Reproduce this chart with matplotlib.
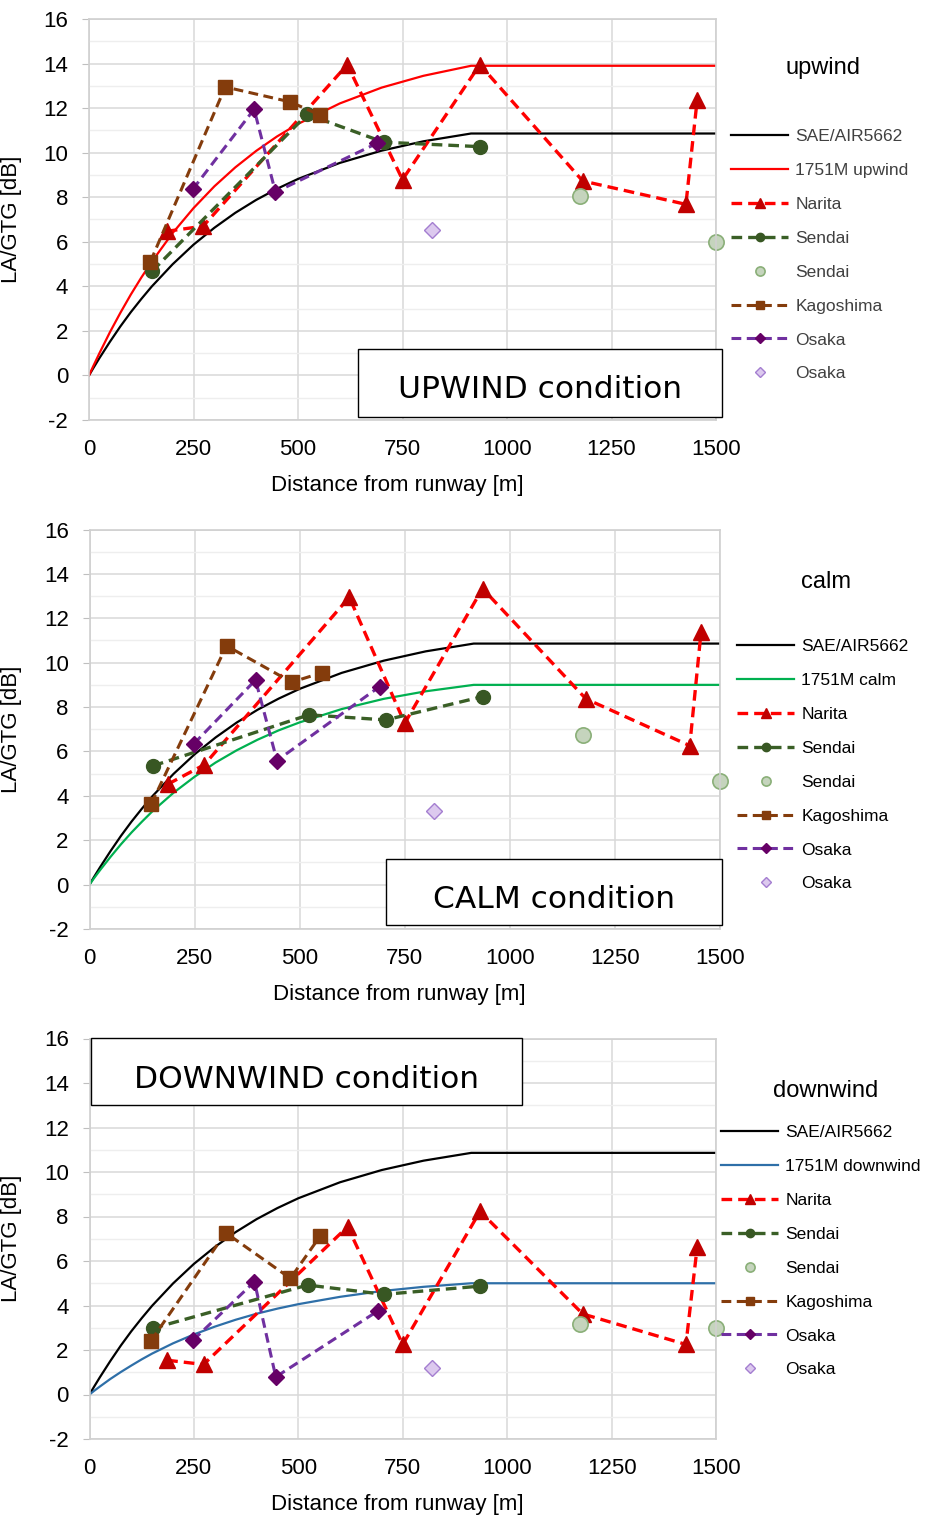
import matplotlib
matplotlib.use("Agg")
import matplotlib.pyplot as plt
from matplotlib.patches import Rectangle

W, H = 931, 1517

# curves
dist_curve = [0, 10, 25, 50, 75, 100, 125, 150, 200, 250, 300, 350, 400, 450, 500, 600, 700, 800, 914, 1500]
sae_curve = [0, 0.32, 0.78, 1.51, 2.20, 2.84, 3.43, 3.99, 4.99, 5.87, 6.63, 7.30, 7.88, 8.38, 8.82, 9.54, 10.09, 10.51, 10.86, 10.86]
upwind_1751m = [0, 0.41, 1.00, 1.94, 2.81, 3.63, 4.39, 5.10, 6.39, 7.51, 8.49, 9.34, 10.08, 10.73, 11.29, 12.21, 12.92, 13.45, 13.90, 13.90]
calm_1751m = [0, 0.27, 0.65, 1.25, 1.82, 2.35, 2.84, 3.31, 4.14, 4.86, 5.50, 6.05, 6.53, 6.95, 7.31, 7.91, 8.37, 8.71, 9.00, 9.00]
downwind_1751m = [0, 0.15, 0.36, 0.70, 1.01, 1.30, 1.58, 1.84, 2.30, 2.70, 3.05, 3.36, 3.63, 3.86, 4.06, 4.39, 4.65, 4.84, 5.00, 5.00]

# measurements
narita_x = [186, 273, 618, 750, 935, 1181, 1428, 1455]
narita_up = [6.47, 6.70, 13.95, 8.79, 13.95, 8.73, 7.68, 12.38]
narita_calm = [4.52, 5.40, 12.95, 7.27, 13.34, 8.37, 6.26, 11.40]
narita_down = [1.54, 1.35, 7.54, 2.25, 8.23, 3.62, 2.25, 6.64]

sendai_x = [151, 522, 705, 935]
sendai_up = [4.68, 11.72, 10.47, 10.27]
sendai_calm = [5.35, 7.65, 7.42, 8.47]
sendai_down = [2.97, 4.92, 4.50, 4.87]

sendai2_x = [1175, 1500]
sendai2_up = [8.07, 6.01]
sendai2_calm = [6.75, 4.65]
sendai2_down = [3.16, 3.00]

kago_x = [147, 326, 481, 553]
kago_up = [5.11, 12.95, 12.28, 11.69]
kago_calm = [3.64, 10.76, 9.12, 9.55]
kago_down = [2.41, 7.27, 5.22, 7.14]

osaka_x = [248, 395, 446, 690]
osaka_up = [8.35, 11.95, 8.23, 10.43]
osaka_calm = [6.34, 9.22, 5.59, 8.92]
osaka_down = [2.44, 5.07, 0.79, 3.75]

osaka2_x = [820]
osaka2_up = [6.54]
osaka2_calm = [3.30]
osaka2_down = [1.17]

x_ticks = [0, 250, 500, 750, 1000, 1250, 1500]
y_ticks = [-2, 0, 2, 4, 6, 8, 10, 12, 14, 16]

plt.rcParams['font.family'] = ['Liberation Sans', 'DejaVu Sans']
plt.rcParams['axes.unicode_minus'] = False


def fx(px):
    return px / W


def fy(py):
    return 1 - py / H


def draw_panel(ax, curve, curve_label, curve_color, nar, sen, sen2, kag, osa, osa2):
    ax.plot(dist_curve, sae_curve, color='black', lw=1.6, label='SAE/AIR5662')
    ax.plot(dist_curve, curve, color=curve_color, lw=1.6, label=curve_label)
    ax.plot(narita_x, nar, color='#ff0000', lw=2.4, dashes=(3.2, 1.8), marker='^',
            ms=11, mfc='#c00000', mec='#c00000', label='Narita', clip_on=False)
    ax.plot(sendai_x, sen, color='#3a5f26', lw=2.4, dashes=(3.2, 1.8), marker='o',
            ms=10, mfc='#385723', mec='#385723', label='Sendai', clip_on=False)
    ax.plot(sendai2_x, sen2, ls='none', marker='o', ms=11, mfc='#c5d4bd',
            mec='#8aaf78', mew=1.2, label='Sendai', clip_on=False)
    ax.plot(kago_x, kag, color='#843c0c', lw=2.2, dashes=(3.2, 1.8), marker='s',
            ms=9.5, mfc='#843c0c', mec='#843c0c', label='Kagoshima', clip_on=False)
    ax.plot(osaka_x, osa, color='#7030a0', lw=2.2, dashes=(3.2, 1.8), marker='D',
            ms=8.5, mfc='#660066', mec='#660066', label='Osaka', clip_on=False)
    ax.plot(osaka2_x, osa2, ls='none', marker='D', ms=8, mfc='#dcc9ee',
            mec='#a47ed0', mew=1.0, label='Osaka', clip_on=False)

    ax.set_xlim(0, 1500)
    ax.set_ylim(-2, 16)
    ax.set_xticks(x_ticks)
    ax.set_yticks(y_ticks)
    ax.set_yticks(range(-1, 16, 2), minor=True)
    ax.grid(True, which='major', color='#d9d9d9', lw=1.1)
    ax.grid(True, which='minor', axis='y', color='#eeeeee', lw=1.0)
    ax.set_axisbelow(True)
    for s in ax.spines.values():
        s.set_color('#d0d0d0')
        s.set_linewidth(1.2)
    ax.tick_params(axis='y', which='major', length=5, color='#bfbfbf', pad=10, labelsize=16)
    ax.tick_params(axis='y', which='minor', length=0)
    ax.tick_params(axis='x', length=0, pad=14, labelsize=16)
    ax.set_ylabel('LA/GTG [dB]', fontsize=16)
    ax.yaxis.set_label_coords(-0.107, 0.5)
    ax.set_xlabel('Distance from runway [m]', fontsize=16)
    ax.xaxis.set_label_coords(0.492, -0.163)
    ax.xaxis.label.set_va('center')


fig = plt.figure(figsize=(W / 100, H / 100), dpi=100)

panels = [
    dict(rect=(89, 19, 716, 420), curve=upwind_1751m, label='1751M upwind', color='#ff0000',
         data=(narita_up, sendai_up, sendai2_up, kago_up, osaka_up, osaka2_up),
         title='upwind', title_xy=(823, 68), leg_xy=(731, 129), tcol='#404040',
         box=(358, 349, 722, 417), box_text='UPWIND condition', text_xy=(540, 390)),
    dict(rect=(89.5, 529.5, 720, 929), curve=calm_1751m, label='1751M calm', color='#00b050',
         data=(narita_calm, sendai_calm, sendai2_calm, kago_calm, osaka_calm, osaka2_calm),
         title='calm', title_xy=(826, 582), leg_xy=(737, 639), tcol='black',
         box=(386, 859, 722, 925), box_text='CALM condition', text_xy=(554, 900)),
    dict(rect=(89.5, 1038.5, 716, 1439), curve=downwind_1751m, label='1751M downwind', color='#2e6fa8',
         data=(narita_down, sendai_down, sendai2_down, kago_down, osaka_down, osaka2_down),
         title='downwind', title_xy=(826, 1091), leg_xy=(721, 1125), tcol='black',
         box=(91, 1038, 522, 1105), box_text='DOWNWIND condition', text_xy=(307, 1079)),
]

for p in panels:
    l, t, r, b = p['rect']
    ax = fig.add_axes([fx(l), fy(b), fx(r - l), (b - t) / H])
    draw_panel(ax, p['curve'], p['label'], p['color'], *p['data'])
    leg = ax.legend(loc='upper left', bbox_to_anchor=(fx(p['leg_xy'][0]), fy(p['leg_xy'][1])),
                    bbox_transform=fig.transFigure, frameon=False, fontsize=12.5,
                    handlelength=3.3, handletextpad=0.4, labelspacing=1.08,
                    borderpad=0, borderaxespad=0, markerscale=0.6)
    for txt in leg.get_texts():
        txt.set_color(p['tcol'])
    fig.text(fx(p['title_xy'][0]), fy(p['title_xy'][1]), p['title'], fontsize=17,
             ha='center', va='center')
    bl, bt, br, bb = p['box']
    fig.add_artist(Rectangle((fx(bl), fy(bb)), fx(br - bl), (bb - bt) / H,
                             transform=fig.transFigure, fill=True, facecolor='white',
                             edgecolor='black', lw=1.0, zorder=5))
    fig.text(fx(p['text_xy'][0]), fy(p['text_xy'][1]), p['box_text'], fontsize=22.5,
             family='DejaVu Sans', ha='center', va='center', zorder=6)

fig.savefig('out.png', dpi=100)
